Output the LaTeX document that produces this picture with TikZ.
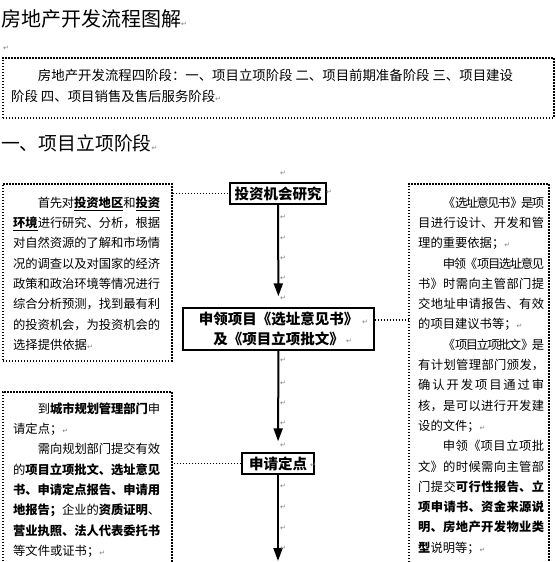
\documentclass[tikz,border=0pt]{standalone}
\usepackage{fontspec}
\setmainfont{Noto Sans CJK SC}
\newfontfamily\symfont{DejaVu Sans}
\usetikzlibrary{arrows.meta,positioning}

\newcommand{\pmark}{{\color{gray}\symfont\fontsize{7bp}{7bp}\selectfont ↵}}
\newcommand{\bu}[1]{\textbf{\underline{#1}}}
\newcommand{\cjkjust}{\XeTeXlinebreaklocale "zh"\XeTeXlinebreakskip=0pt plus 4pt minus 2pt
  \parindent=0pt \parskip=0pt \tolerance=9999 \hbadness=10000 \hfuzz=20pt}

\tikzset{
  dotbox/.style={draw, line width=1.6bp, dash pattern=on 1.5bp off 1.5bp, anchor=north west, inner sep=0pt},
  dotlink/.style={line width=1.6bp, dash pattern=on 1.5bp off 1.5bp},
  notetext/.style={anchor=north west, inner sep=0pt, align=justify, text width=#1,
    font=\fontsize{12.3bp}{20.3bp}\selectfont\cjkjust},
  stage/.style={draw, line width=1.4bp, fill=white, inner sep=0pt, font=\bfseries\fontsize{14.5bp}{20bp}\selectfont},
  flow/.style={line width=2bp, -{Triangle[width=9bp,length=13bp]}},
  pmk/.style={text=gray, inner sep=0pt, font=\symfont\fontsize{7bp}{7bp}\selectfont},
}

\begin{document}
\begin{tikzpicture}[x=1bp,y=-1bp]
\clip (0,0) rectangle (556,562);
\fill[white] (0,0) rectangle (556,562);

% heading
\node[anchor=west, inner sep=0pt, font=\fontsize{20bp}{24bp}\selectfont] (title) at (1,19) {房地产开发流程图解\pmark};

% four stages
\node[dotbox, minimum width=551bp, minimum height=60bp] (intro) at (2,57) {};
\node[anchor=north west, inner sep=0pt, align=left, font=\fontsize{13.4bp}{21bp}\selectfont] (introtext) at (11,69.2)
  {\hspace*{2em}房地产开发流程四阶段：一、项目立项阶段 二、项目前期准备阶段 三、项目建设\\
   阶段 四、项目销售及售后服务阶段\pmark};

\node[anchor=west, inner sep=0pt, font=\fontsize{18.8bp}{22bp}\selectfont] (stage1) at (1,143) {一、项目立项阶段\pmark};

% side notes
\node[dotbox, minimum width=169bp, minimum height=177bp] (lbox) at (2,183) {};
\node[notetext=147bp] (ltext) at (13,196.5)
  {\hspace*{2em}首先对\bu{投资地区}和\bu{投资}\linebreak
   \bu{环境}进行研究、分析，根据\linebreak
   对自然资源的了解和市场情\linebreak
   况的调查以及对国家的经济\linebreak
   政策和政治环境等情况进行\linebreak
   综合分析预测，找到最有利\linebreak
   的投资机会，为投资机会的\linebreak
   选择提供依据\pmark\par};

\node[dotbox, minimum width=140bp, minimum height=420bp] (rbox) at (408,183) {};
\node[notetext=126bp] (rtext) at (418,196.5)
  {\hspace*{2em}《选址意见书》是项\linebreak
   目进行设计、开发和管\linebreak
   理的重要依据；\pmark\par
   \hspace*{2em}申领《项目选址意见\linebreak
   书》时需向主管部门提\linebreak
   交地址申请报告、有效\linebreak
   的项目建议书等；\pmark\par
   \hspace*{2em}《项目立项批文》是\linebreak
   有计划管理部门颁发，\linebreak
   确认开发项目通过审\linebreak
   核，是可以进行开发建\linebreak
   设的文件；\pmark\par
   \hspace*{2em}申领《项目立项批\linebreak
   文》的时候需向主管部\linebreak
   门提交\textbf{可行性报告、立}\linebreak
   \textbf{项申请书、资金来源说}\linebreak
   \textbf{明、房地产开发物业类}\linebreak
   \textbf{型}说明等；\pmark\par};

\node[dotbox, minimum width=169bp, minimum height=220bp] (lbbox) at (2,391) {};
\node[notetext=147bp] (lbtext) at (13,402.5)
  {\hspace*{2em}到\textbf{城市规划管理部门}申\linebreak
   请定点；\pmark\par
   \hspace*{2em}需向规划部门提交有效\linebreak
   的\textbf{项目立项批文、选址意见}\linebreak
   \textbf{书、申请定点报告、申请用}\linebreak
   \textbf{地报告；}企业的\textbf{资质证明}、\linebreak
   \textbf{营业执照、法人代表委托书}\linebreak
   等文件或证书；\pmark\par};

% flow
\node[stage, minimum width=96bp, minimum height=21bp] (invest) at (278,193.5) {投资机会研究};
\node[stage, minimum width=191bp, minimum height=42bp, align=center] (apply) at (278.5,329)
  {申领项目《选址意见书》\\及《项目立项批文》};
\node[stage, minimum width=72bp, minimum height=21bp] (site) at (278,463.5) {申请定点};
\coordinate (flowend) at (278,561);

\draw[flow, shorten >=11bp] (invest) -- (apply);
\draw[flow, shorten >=11bp] (apply) -- (site);
\draw[flow] (site) -- (flowend);

\draw[dotlink] (invest.west -| lbox.east) -- (invest.west);
\draw[dotlink] ([yshift=9bp]apply.east) -- ([yshift=9bp]apply.east -| rbox.west);
\draw[dotlink] (site.west) -- (site.west -| lbbox.east);

% paragraph marks
\node[pmk] (pm0) at (6,48) {↵};
\foreach \px/\py [count=\i] in {283/173,283/217,283/238,283/258,283/278,283/298,
    283/360,283/383,283/403,283/423,283/445,283/486,283/507,283/528,283/548,
    329/192,365/322,349/341,313/465}
  \node[pmk] (pm\i) at (\px,\py) {↵};
\end{tikzpicture}
\end{document}
